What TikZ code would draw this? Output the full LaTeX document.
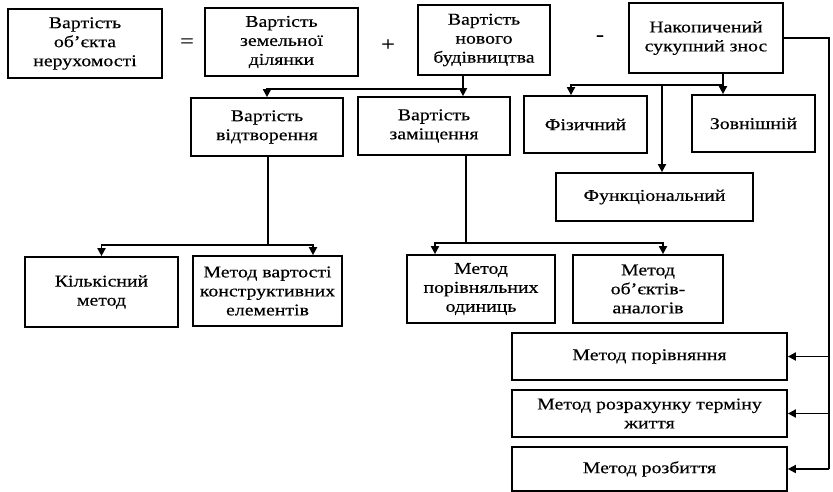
\documentclass[tikz,border=0pt]{standalone}
\usepackage{fontspec}
\setmainfont{Liberation Serif}[FakeStretch=1.2,FakeBold=0.4]
\usetikzlibrary{arrows.meta}

\tikzset{
  blk/.style={draw, line width=1.7pt, align=center, inner sep=2pt,
    font=\fontsize{16.5}{19}\selectfont},
  sign/.style={font=\fontsize{20}{20}\selectfont},
  conn/.style={line width=1.7pt},
  arr/.style={conn, -{Triangle[length=8pt,width=8pt]}},
}

\begin{document}
\begin{tikzpicture}[x=1pt,y=-1pt]
  \useasboundingbox (0,0) rectangle (833,492);
  % top row
  \node[blk, minimum width=154pt, minimum height=69pt] (obj) at (85,43.5) {Вартість\\об’єкта\\нерухомості};
  \node[sign] (eq) at (187,43) {=};
  \node[blk, minimum width=153pt, minimum height=68pt] (land) at (281.5,42) {Вартість\\земельної\\ділянки};
  \node[sign] (plus) at (388,45) {+};
  \node[blk, minimum width=132pt, minimum height=70pt] (build) at (484,40) {Вартість\\нового\\будівництва};
  \node[sign] (minus) at (600,38) {-};
  \node[blk, minimum width=154pt, minimum height=70pt] (wear) at (706,38) {Накопичений\\сукупний знос};
  % second row
  \node[blk, minimum width=152pt, minimum height=58pt] (repro) at (267,127) {Вартість\\відтворення};
  \node[blk, minimum width=152pt, minimum height=58pt] (repl) at (434,126) {Вартість\\заміщення};
  \node[blk, minimum width=123pt, minimum height=57pt] (phys) at (585.5,124.5) {Фізичний};
  \node[blk, minimum width=123pt, minimum height=57pt] (ext) at (753.5,123.5) {Зовнішній};
  \node[blk, minimum width=197pt, minimum height=48pt] (func) at (654.5,197) {Функціональний};
  % third row
  \node[blk, minimum width=153pt, minimum height=70pt] (qty) at (101.5,292) {Кількісний\\метод};
  \node[blk, minimum width=149pt, minimum height=70pt] (elem) at (267.5,291) {Метод вартості\\конструктивних\\елементів};
  \node[blk, minimum width=148pt, minimum height=68pt] (units) at (481,289) {Метод\\порівняльних\\одиниць};
  \node[blk, minimum width=150pt, minimum height=68pt] (analog) at (648,289) {Метод\\об’єктів-\\аналогів};
  % methods of wear
  \node[blk, minimum width=275pt, minimum height=47pt] (cmp) at (649.5,356.5) {Метод порівняння};
  \node[blk, minimum width=275pt, minimum height=47pt] (life) at (649.5,413.5) {Метод розрахунку терміну\\життя};
  \node[blk, minimum width=275pt, minimum height=44pt] (split) at (649.5,469) {Метод розбиття};

  % new building -> reproduction / replacement
  \coordinate (bj) at (463,89);
  \draw[conn] (build.south -| bj) -- (bj);
  \draw[arr] (bj) -| (repro.north);
  \draw[arr] (bj) -- (repl.north -| bj);
  % accumulated wear -> kinds
  \coordinate (wj) at (723,85);
  \coordinate (pf) at (571,85);
  \coordinate (ff) at (662,85);
  \draw[conn] (wear.south -| wj) -- (wj);
  \draw[arr] (wj) -- (ext.north -| wj);
  \draw[arr] (wj) -- (pf) -- (phys.north -| pf);
  \draw[arr] (ff) -- (func.north -| ff);
  % accumulated wear -> methods
  \coordinate (rt) at (829,38);
  \draw[conn] (wear.east |- rt) -- (rt) -- (rt |- split.east);
  \foreach \b in {cmp,life,split}
    \draw[arr] (rt |- \b.east) -- (\b.east);
  % reproduction -> methods
  \coordinate (rj) at (268,245);
  \coordinate (re) at (313,245);
  \draw[conn] (repro.south -| rj) -- (rj);
  \draw[arr] (rj) -| (qty.north);
  \draw[arr] (rj) -- (re) -- (elem.north -| re);
  % replacement -> methods
  \coordinate (sj) at (466,243);
  \coordinate (su) at (435,243);
  \coordinate (sa) at (663,243);
  \draw[conn] (repl.south -| sj) -- (sj);
  \draw[arr] (sj) -- (su) -- (units.north -| su);
  \draw[arr] (sj) -- (sa) -- (analog.north -| sa);
\end{tikzpicture}
\end{document}
